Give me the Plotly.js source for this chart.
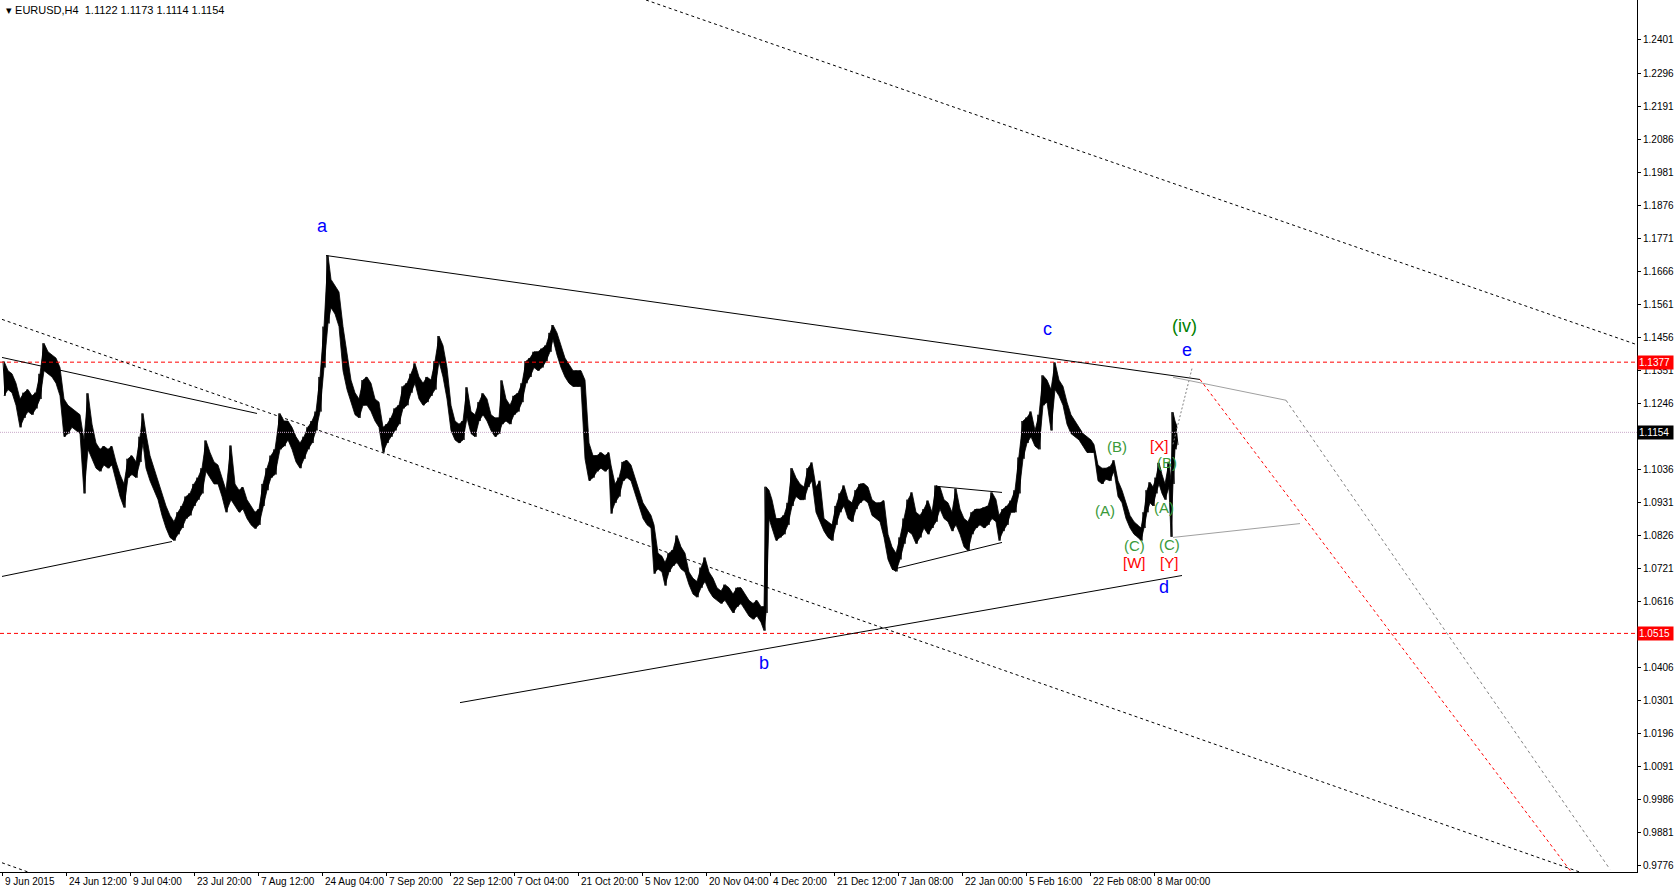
<!DOCTYPE html>
<html><head><meta charset="utf-8">
<script src="https://cdn.plot.ly/plotly-3.0.1.min.js"></script>
<style>html,body{margin:0;padding:0;background:#fff;overflow:hidden}#chart{width:1676px;height:894px}</style>
</head><body><div id="chart"></div>
<script>
// bar index (H4 bars since 9 Jun 2015), low and high of each sampled stretch
const bars = [2,6,10,14,18,22,26,30,34,38,42,46,50,54,58,62,66,70,74,78,82,86,90,94,98,102,106,110,114,118,122,126,130,134,138,141,144,148,152,156,160,164,168,172,176,180,184,188,192,196,200,204,208,212,216,220,224,229,233,237,241,245,249,253,257,261,265,269,273,278,282,286,290,294,298,302,306,310,314,318,322,326,329,333,337,341,345,349,353,357,361,365,369,373,377,381,385,389,393,397,401,405,409,413,417,421,425,429,433,437,441,445,449,453,457,461,465,469,473,477,481,485,489,493,497,500,504,508,512,516,520,524,528,532,536,540,544,548,551,555,559,563,567,571,575,579,583,587,591,595,599,603,607,609,613,617,621,625,629,633,637,641,645,649,652,656,660,663,667,671,675,679,683,687,691,695,699,703,707,711,715,719,723,727,731,735,739,743,747,751,755,759,762,764,767,770,774,778,782,786,790,794,798,802,806,810,814,818,822,826,830,834,838,842,846,850,854,858,862,866,870,874,878,882,886,890,894,898,902,906,910,914,918,922,926,930,934,938,942,946,950,954,958,962,966,970,974,978,982,986,990,994,997,1001,1005,1009,1013,1017,1021,1025,1029,1033,1037,1041,1045,1049,1053,1057,1061,1065,1069,1073,1077,1081,1085,1089,1092,1096,1100,1104,1108,1112,1116,1120,1124,1128,1132,1136,1139,1142,1145,1148,1151,1154,1157,1160,1163,1167,1169,1171,1173,1175];
const lows = [1.127,1.129,1.128,1.124,1.117,1.120,1.122,1.121,1.123,1.126,1.135,1.134,1.133,1.131,1.127,1.114,1.115,1.117,1.116,1.115,1.096,1.110,1.107,1.104,1.103,1.105,1.104,1.105,1.100,1.095,1.0915,1.101,1.102,1.101,1.106,1.112,1.104,1.100,1.097,1.094,1.089,1.085,1.082,1.081,1.083,1.085,1.088,1.089,1.092,1.094,1.096,1.103,1.101,1.099,1.099,1.095,1.090,1.094,1.092,1.090,1.091,1.088,1.086,1.0848,1.086,1.092,1.097,1.101,1.102,1.110,1.111,1.113,1.110,1.106,1.104,1.107,1.110,1.112,1.116,1.122,1.136,1.150,1.155,1.153,1.149,1.135,1.129,1.125,1.121,1.120,1.124,1.124,1.122,1.119,1.117,1.109,1.112,1.114,1.116,1.118,1.123,1.124,1.128,1.131,1.126,1.124,1.125,1.127,1.129,1.138,1.133,1.126,1.116,1.113,1.112,1.113,1.120,1.115,1.114,1.119,1.121,1.119,1.116,1.114,1.115,1.118,1.119,1.118,1.121,1.122,1.125,1.131,1.133,1.136,1.135,1.136,1.138,1.141,1.145,1.140,1.136,1.133,1.131,1.130,1.130,1.130,1.107,1.100,1.101,1.103,1.104,1.103,1.104,1.0896,1.093,1.095,1.100,1.101,1.100,1.096,1.092,1.088,1.086,1.085,1.0705,1.072,1.071,1.0667,1.071,1.073,1.074,1.072,1.071,1.067,1.064,1.063,1.066,1.068,1.065,1.063,1.062,1.061,1.062,1.060,1.058,1.060,1.061,1.059,1.057,1.056,1.057,1.055,1.0524,1.058,1.088,1.085,1.081,1.082,1.083,1.086,1.092,1.095,1.094,1.094,1.098,1.100,1.090,1.087,1.084,1.082,1.081,1.086,1.090,1.092,1.088,1.087,1.091,1.093,1.094,1.093,1.089,1.088,1.087,1.082,1.075,1.072,1.0712,1.075,1.080,1.084,1.083,1.080,1.082,1.085,1.083,1.085,1.087,1.091,1.088,1.087,1.084,1.086,1.083,1.079,1.0778,1.083,1.085,1.086,1.085,1.086,1.088,1.087,1.0810,1.084,1.086,1.090,1.090,1.096,1.107,1.112,1.114,1.111,1.110,1.124,1.125,1.116,1.129,1.127,1.124,1.118,1.115,1.114,1.113,1.111,1.109,1.109,1.109,1.100,1.099,1.1005,1.100,1.103,1.095,1.093,1.088,1.085,1.083,1.082,1.0810,1.085,1.090,1.093,1.092,1.096,1.099,1.096,1.094,1.098,1.0822,1.099,1.110,1.1114];
const highs = [1.138,1.135,1.134,1.131,1.126,1.128,1.129,1.127,1.128,1.134,1.1437,1.141,1.140,1.139,1.136,1.126,1.124,1.123,1.122,1.121,1.113,1.1278,1.118,1.112,1.110,1.111,1.110,1.111,1.106,1.102,1.099,1.107,1.108,1.106,1.114,1.1214,1.115,1.108,1.104,1.100,1.096,1.092,1.089,1.087,1.090,1.092,1.095,1.096,1.099,1.101,1.104,1.1128,1.109,1.106,1.105,1.101,1.097,1.1112,1.099,1.097,1.098,1.094,1.092,1.090,1.091,1.099,1.104,1.108,1.110,1.1214,1.119,1.119,1.117,1.114,1.112,1.114,1.117,1.119,1.122,1.133,1.149,1.1716,1.164,1.162,1.160,1.149,1.140,1.132,1.128,1.126,1.132,1.133,1.131,1.126,1.125,1.117,1.118,1.120,1.123,1.124,1.130,1.131,1.134,1.1373,1.133,1.131,1.133,1.132,1.138,1.1460,1.143,1.136,1.124,1.119,1.118,1.119,1.1297,1.122,1.121,1.125,1.1278,1.126,1.121,1.120,1.120,1.1319,1.126,1.124,1.127,1.1278,1.131,1.138,1.139,1.141,1.141,1.142,1.143,1.147,1.1495,1.147,1.143,1.139,1.137,1.135,1.135,1.135,1.132,1.112,1.108,1.108,1.109,1.108,1.109,1.105,1.099,1.101,1.106,1.1065,1.105,1.101,1.097,1.093,1.091,1.089,1.086,1.077,1.076,1.074,1.077,1.078,1.0826,1.079,1.077,1.071,1.069,1.068,1.0724,1.0756,1.071,1.069,1.066,1.065,1.067,1.066,1.064,1.066,1.066,1.064,1.062,1.061,1.062,1.060,1.060,1.0981,1.097,1.094,1.088,1.088,1.089,1.093,1.1040,1.101,1.099,1.098,1.104,1.1058,1.098,1.100,1.088,1.087,1.086,1.092,1.096,1.0985,1.094,1.093,1.097,1.099,1.0991,1.098,1.094,1.093,1.093,1.0937,1.083,1.079,1.077,1.082,1.088,1.094,1.0963,1.090,1.089,1.091,1.0937,1.090,1.0985,1.098,1.094,1.093,1.090,1.0975,1.091,1.088,1.087,1.090,1.091,1.091,1.0915,1.092,1.0963,1.094,1.089,1.091,1.092,1.0937,1.097,1.1074,1.119,1.1201,1.122,1.116,1.121,1.1335,1.132,1.129,1.1376,1.132,1.130,1.125,1.121,1.119,1.117,1.115,1.114,1.113,1.1115,1.105,1.104,1.104,1.1045,1.1065,1.100,1.097,1.093,1.089,1.087,1.086,1.085,1.090,1.097,1.0995,1.098,1.101,1.1057,1.102,1.099,1.106,1.100,1.1218,1.119,1.1173];

// time axis labels, one every 64 H4 bars
const dateLabels = ["9 Jun 2015","24 Jun 12:00","9 Jul 04:00","23 Jul 20:00","7 Aug 12:00","24 Aug 04:00","7 Sep 20:00","22 Sep 12:00","7 Oct 04:00","21 Oct 20:00","5 Nov 12:00","20 Nov 04:00","4 Dec 20:00","21 Dec 12:00","7 Jan 08:00","22 Jan 00:00","5 Feb 16:00","22 Feb 08:00","8 Mar 00:00"];
const labelBars = [0,64,128,192,256,320,384,448,512,576,640,704,768,832,896,960,1024,1088,1152];
// price scale labels (1.1141 and 1.0511 sit under the price boxes)
const priceTicks = [1.2401,1.2296,1.2191,1.2086,1.1981,1.1876,1.1771,1.1666,1.1561,1.1456,1.1351,1.1246,1.1036,1.0931,1.0826,1.0721,1.0616,1.0406,1.0301,1.0196,1.0091,0.9986,0.9881,0.9776];

// horizontal levels
const resistance = 1.1377, support = 1.0515, bid = 1.1154;
const header = {symbol:"EURUSD,H4", open:1.1122, high:1.1173, low:1.1114, close:1.1154};

// drawn trend lines [bar, price]
const lineAC    = {x:[324,1198], y:[1.1716,1.1322]};
const lineBD    = {x:[458,1180], y:[1.0295,1.0699]};
const lineJun   = {x:[0,255],    y:[1.1392,1.1214]};
const lineJul   = {x:[0,170],    y:[1.0696,1.0807]};
const lineTriUp = {x:[936,1000], y:[1.0982,1.0963]};
const lineTriLo = {x:[890,1000], y:[1.0718,1.0804]};
const chanTop   = {x:[644,1640], y:[1.2528,1.1427]};
const chanMid   = {x:[0,1580],   y:[1.1513,0.9754]};
const chanLow   = {x:[0,40],     y:[0.9786,0.9741]};
const projE     = {x:[1171,1190], y:[1.1116,1.1357]};
const projUp    = {x:[1171,1284], y:[1.1329,1.1256]};
const projDown  = {x:[1284,1608], y:[1.1256,0.9765]};
const projLow   = {x:[1171,1298], y:[1.0820,1.0864]};
const projRed   = {x:[1198,1572], y:[1.1322,0.9745]};

// wave labels
const waveLabels = [
  {t:"a", x:320, y:1.1809, c:"#0000ff", s:18},
  {t:"b", x:762, y:1.0422, c:"#0000ff", s:18},
  {t:"c", x:1045, y:1.1481, c:"#0000ff", s:18},
  {t:"d", x:1162, y:1.0664, c:"#0000ff", s:18},
  {t:"e", x:1185, y:1.1415, c:"#0000ff", s:18},
  {t:"(iv)", x:1182, y:1.1491, c:"#008000", s:18},
  {t:"(B)", x:1115, y:1.1109, c:"#3a9a3a", s:15},
  {t:"(A)", x:1103, y:1.0906, c:"#3a9a3a", s:15},
  {t:"(C)", x:1132, y:1.0795, c:"#3a9a3a", s:15},
  {t:"[W]", x:1132, y:1.0740, c:"#ff0000", s:15},
  {t:"[X]", x:1157, y:1.1112, c:"#ff0000", s:15},
  {t:"(B)", x:1165, y:1.1058, c:"#3a9a3a", s:15},
  {t:"(A)", x:1162, y:1.0915, c:"#3a9a3a", s:15},
  {t:"(C)", x:1167, y:1.0797, c:"#3a9a3a", s:15},
  {t:"[Y]", x:1167, y:1.0740, c:"#ff0000", s:15}
];

const FONT = "Liberation Sans, Arial, sans-serif";
function seg(l, color, dash, w) {
  return {type:"scatter", mode:"lines", x:l.x, y:l.y, hoverinfo:"skip",
    line:{color:color, dash:dash||"solid", width:w||1}, showlegend:false};
}

// price path drawn as a dense high/low zigzag over a filled high-low band
const zx = [], zy = [];
bars.forEach((b, i) => { zx.push(b - 1, b + 1); zy.push(highs[i], lows[i]); });

const traces = [
  {type:"scatter", mode:"lines", x:bars, y:lows, line:{color:"#000", width:0.8}, showlegend:false, hoverinfo:"skip"},
  {type:"scatter", mode:"lines", x:bars, y:highs, fill:"tonexty", fillcolor:"#000", line:{color:"#000", width:0.8}, showlegend:false, hoverinfo:"skip"},
  {type:"scatter", mode:"lines", x:zx, y:zy, line:{color:"#000", width:1}, showlegend:false, hoverinfo:"skip"},
  seg({x:[-2,1635], y:[resistance,resistance]}, "#ff0000", "4px,3px"),
  seg({x:[-2,1635], y:[support,support]}, "#ff0000", "4px,3px"),
  seg({x:[-2,1635], y:[bid,bid]}, "#c8a8c8", "1px,1px"),
  seg(lineAC, "#000"), seg(lineBD, "#000"), seg(lineJun, "#000"), seg(lineJul, "#000"),
  seg(lineTriUp, "#000"), seg(lineTriLo, "#000"),
  seg(chanTop, "#000", "3px,3px"), seg(chanMid, "#000", "3px,3px"), seg(chanLow, "#000", "3px,3px"),
  seg(projE, "#808080", "2px,2px"), seg(projUp, "#a0a0a0"), seg(projDown, "#808080", "3px,3px"),
  seg(projLow, "#a0a0a0"), seg(projRed, "#ff0000", "3px,3px")
];

const annotations = waveLabels.map(w => ({
  x:w.x, y:w.y, xref:"x", yref:"y", text:w.t, showarrow:false,
  font:{family:FONT, size:w.s, color:w.c}, xanchor:"center", yanchor:"middle"
}));
function priceBox(v, bg) {
  return {xref:"paper", x:1, xanchor:"left", xshift:0, yref:"y", y:v, yanchor:"middle", text:v.toFixed(4),
    showarrow:false, bgcolor:bg, borderpad:1, width:33, align:"left",
    font:{family:FONT, size:10, color:"#fff"}};
}
annotations.push(priceBox(resistance, "#ff0000"), priceBox(support, "#ff0000"), priceBox(bid, "#000000"));
annotations.push({xref:"paper", yref:"paper", x:0, y:1, xanchor:"left", yanchor:"top", xshift:4, yshift:-2,
  showarrow:false, align:"left",
  text:"▾ " + header.symbol + "  " + [header.open,header.high,header.low,header.close].map(v=>v.toFixed(4)).join(" "),
  font:{family:FONT, size:11, color:"#000"}});
// time labels, left-aligned at their tick like the terminal draws them
labelBars.forEach((b, i) => annotations.push({
  xref:"x", x:b, yref:"paper", y:0, xanchor:"left", yanchor:"top", xshift:1, yshift:-2,
  text:dateLabels[i], showarrow:false, font:{family:FONT, size:10, color:"#000"}
}));

const layout = {
  width:1676, height:894, margin:{l:0, r:39, t:0, b:22},
  paper_bgcolor:"#fff", plot_bgcolor:"#fff", showlegend:false,
  xaxis:{range:[-2,1635], showgrid:false, zeroline:false, tickvals:labelBars, showticklabels:false,
    ticks:"outside", ticklen:3, tickcolor:"#000",
    showline:true, linecolor:"#000", linewidth:1, mirror:true},
  yaxis:{range:[0.97567,1.2528], side:"right", showgrid:false, zeroline:false,
    tickvals:priceTicks, ticktext:priceTicks.map(v=>v.toFixed(4)),
    ticks:"outside", ticklen:3, tickcolor:"#000", showline:true, linecolor:"#000", linewidth:1, mirror:true,
    tickfont:{family:FONT, size:10, color:"#000"}},
  annotations:annotations
};
Plotly.newPlot("chart", traces, layout, {staticPlot:true, displayModeBar:false});
</script></body></html>
